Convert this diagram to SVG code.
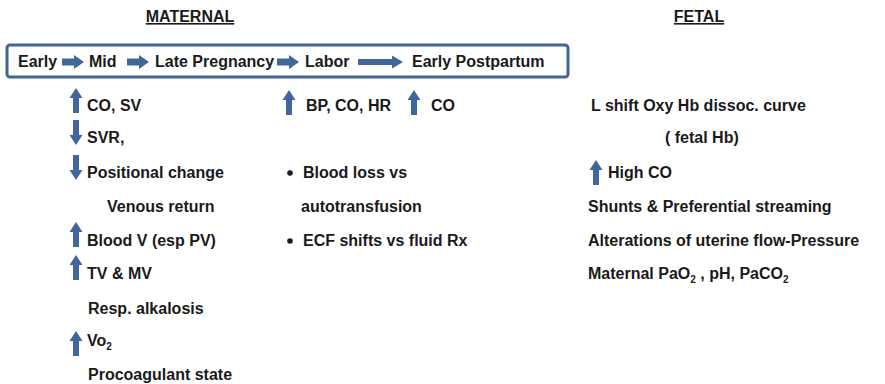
<svg xmlns="http://www.w3.org/2000/svg" width="885" height="384" viewBox="0 0 885 384">
<style>
text{font-family:"Liberation Sans",Arial,sans-serif;font-weight:bold;font-size:16px;fill:#1a1a1a}
.box text{font-size:16px}
.hdr{text-decoration:underline}
.ar{fill:#41679a}
.sub{font-size:10px}
</style>
<defs>
<path id="up" d="M0,0 L6.5,10 L3,10 L3,25 L-3,25 L-3,10 L-6.5,10 Z"/>
<path id="dn" d="M0,25 L6.5,15 L3,15 L3,0 L-3,0 L-3,15 L-6.5,15 Z"/>
<path id="ra" d="M0,-3.5 L12,-3.5 L12,-7 L22,0 L12,7 L12,3.5 L0,3.5 Z"/>
<path id="ral" d="M0,-3 L34,-3 L34,-6.5 L45,0 L34,6.5 L34,3 L0,3 Z"/>
</defs>
<rect width="885" height="384" fill="#fff"/>
<g id="headers">
<text class="hdr" x="190" y="22" text-anchor="middle">MATERNAL</text>
<text class="hdr" x="699" y="22" text-anchor="middle">FETAL</text>
</g>
<g id="timeline" class="box">
<rect x="7" y="45" width="561" height="32" rx="3" fill="#fff" stroke="#3f6697" stroke-width="3"/>
<text x="18" y="67">Early</text>
<text x="89" y="67">Mid</text>
<text x="155" y="67">Late Pregnancy</text>
<text x="305" y="67">Labor</text>
<text x="412" y="67">Early Postpartum</text>
</g>
<g id="connectors" class="ar">
<use href="#ra" x="62" y="62"/>
<use href="#ra" x="127" y="62"/>
<use href="#ra" x="277" y="62"/>
<use href="#ral" x="358" y="62"/>
</g>
<g id="maternal-early">
<use class="ar" href="#up" x="76" y="88"/>
<text x="87" y="111">CO, SV</text>
<use class="ar" href="#dn" x="76" y="120"/>
<text x="87" y="143">SVR,</text>
<use class="ar" href="#dn" x="76" y="155"/>
<text x="87" y="178">Positional change</text>
<text x="107" y="212">Venous return</text>
<use class="ar" href="#up" x="76" y="222"/>
<text x="87" y="246">Blood V (esp PV)</text>
<use class="ar" href="#up" x="76" y="255"/>
<text x="87" y="279">TV &amp; MV</text>
<text x="88" y="314">Resp. alkalosis</text>
<use class="ar" href="#up" x="76" y="331"/>
<text x="87" y="346">Vo<tspan class="sub" dy="4">2</tspan></text>
<text x="88" y="380">Procoagulant state</text>
</g>
<g id="maternal-labor">
<use class="ar" href="#up" x="289" y="90"/>
<text x="306" y="111">BP, CO, HR</text>
<use class="ar" href="#up" x="414" y="90"/>
<text x="431" y="111">CO</text>
<circle cx="290" cy="173" r="2.8" fill="#1a1a1a"/>
<text x="303" y="178">Blood loss vs</text>
<text x="301" y="212">autotransfusion</text>
<circle cx="290" cy="241" r="2.8" fill="#1a1a1a"/>
<text x="303" y="246">ECF shifts vs fluid Rx</text>
</g>
<g id="fetal">
<text x="591" y="111">L shift Oxy Hb dissoc. curve</text>
<text x="665" y="143">( fetal Hb)</text>
<use class="ar" href="#up" x="596" y="160"/>
<text x="608" y="178">High CO</text>
<text x="588" y="212">Shunts &amp; Preferential streaming</text>
<text x="588" y="246">Alterations of uterine flow-Pressure</text>
<text x="588" y="279">Maternal PaO<tspan class="sub" dy="4">2</tspan><tspan dy="-4"> , pH, PaCO</tspan><tspan class="sub" dy="4">2</tspan></text>
</g>
</svg>
